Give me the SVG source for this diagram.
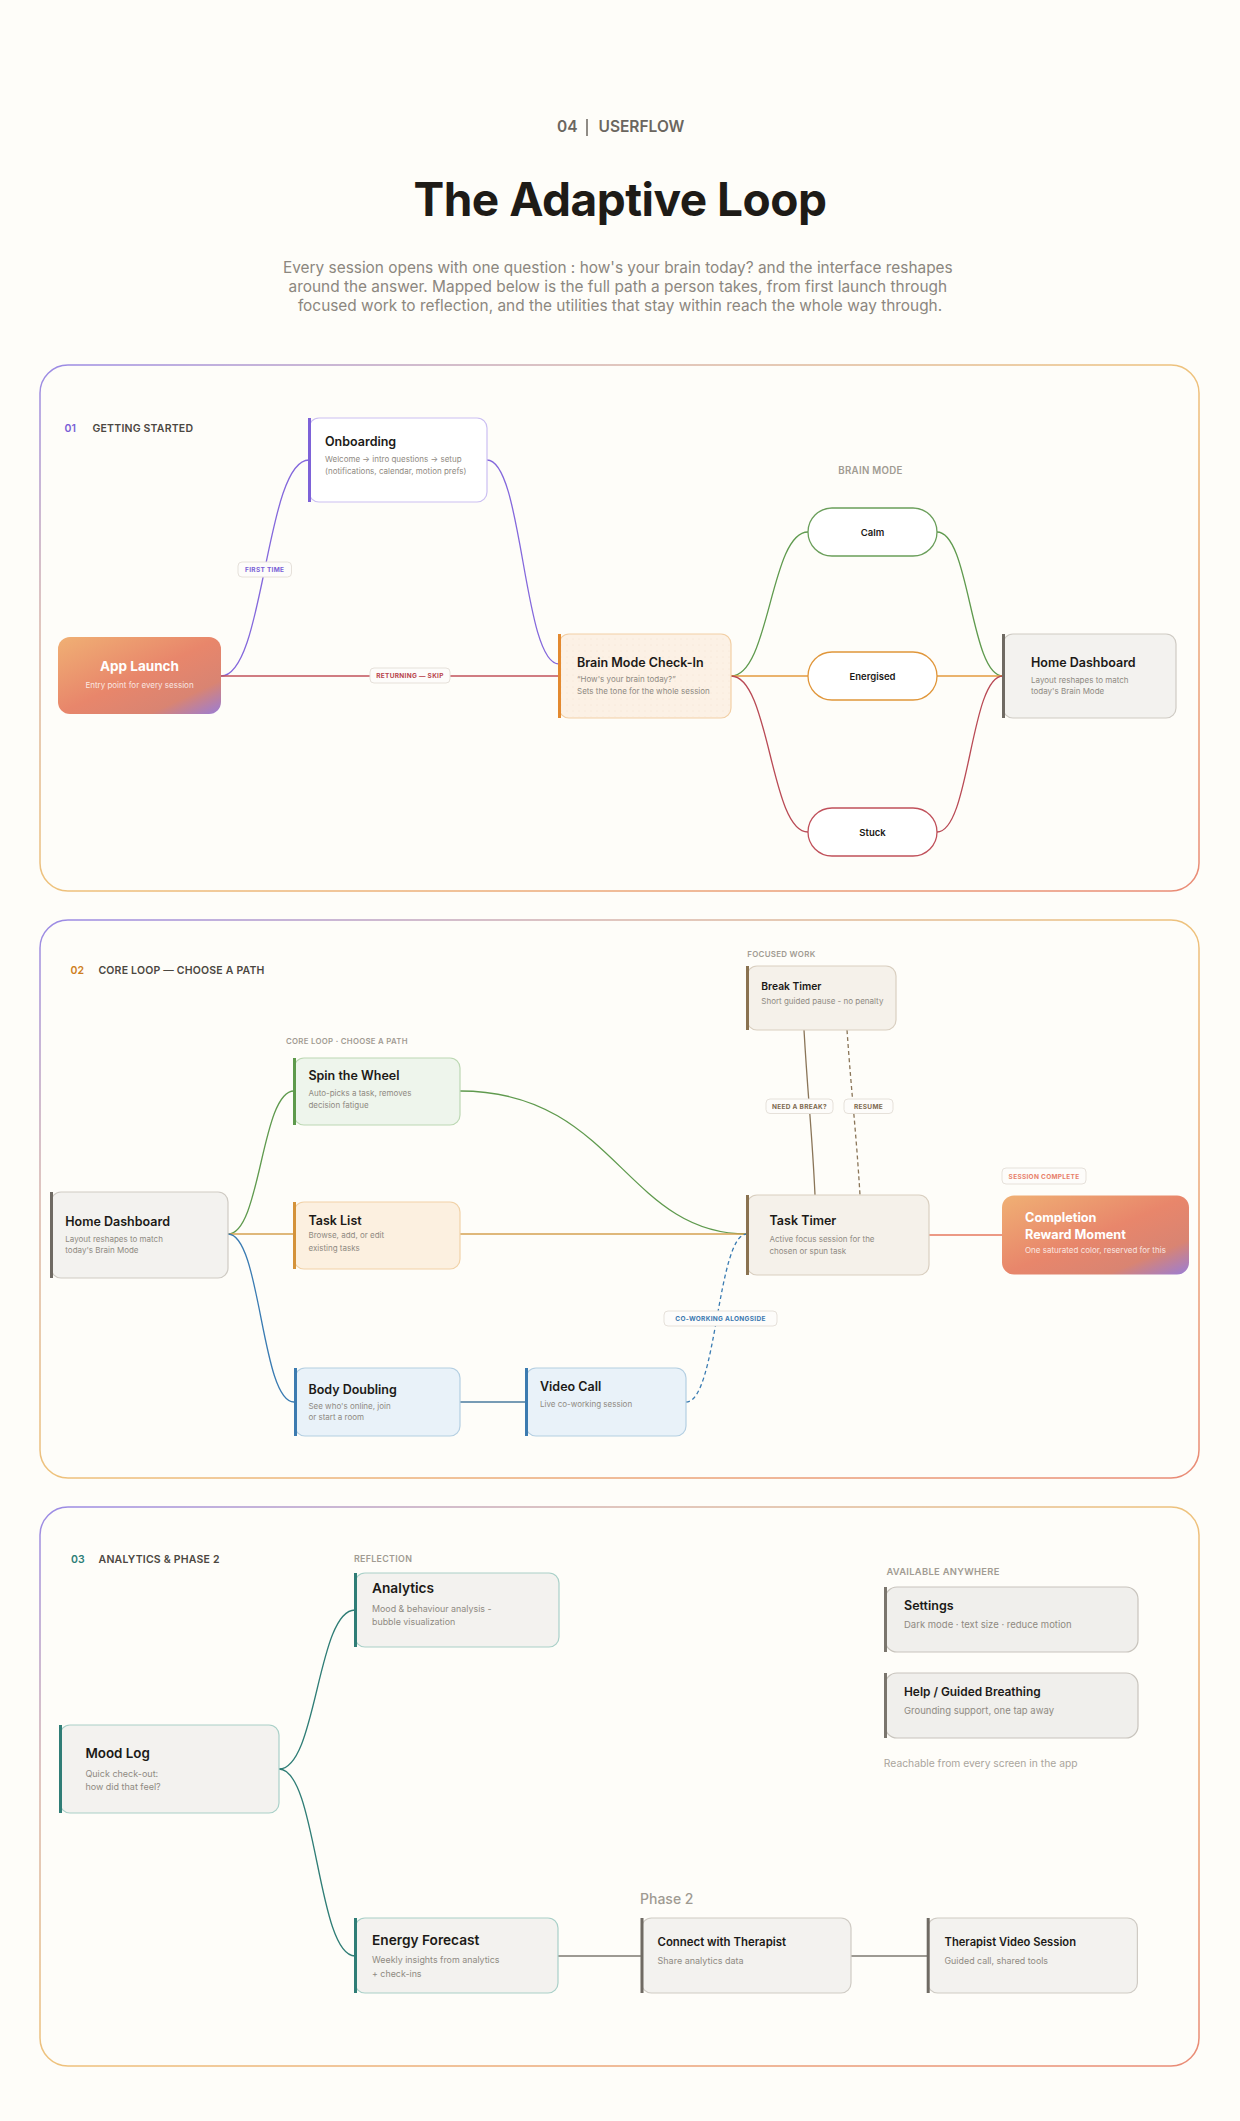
<svg xmlns="http://www.w3.org/2000/svg" width="1240" height="2121" viewBox="0 0 1240 2121">
<defs>
<linearGradient id="secBorder" x1="0" y1="0" x2="1" y2="1">
<stop offset="0" stop-color="#9a8ae6"/>
<stop offset="0.25" stop-color="#d7b4ab"/>
<stop offset="0.5" stop-color="#eec27c"/>
<stop offset="1" stop-color="#e98b76"/>
</linearGradient>
<linearGradient id="hot" x1="0" y1="0" x2="1" y2="1">
<stop offset="0" stop-color="#f0b074"/>
<stop offset="0.5" stop-color="#e8866b"/>
<stop offset="0.78" stop-color="#d98472"/>
<stop offset="1" stop-color="#9a7dd6"/>
</linearGradient>
<pattern id="dots" width="6" height="6" patternUnits="userSpaceOnUse">
<circle cx="3" cy="3" r="0.5" fill="#efdfcb"/>
</pattern>
<style>
text{font-family:Inter,'Liberation Sans',sans-serif}
.sec{fill:none;stroke:url(#secBorder);stroke-width:1.5}
.sn{font-size:10.5px;font-weight:600}
.st{font-size:10.5px;font-weight:600;fill:#4b4741;letter-spacing:.2px}
.cap{font-size:8.5px;font-weight:600;fill:#a19b92;letter-spacing:.3px}
.nt{font-size:12.5px;font-weight:600;fill:#1c1a17}
.nd{font-size:8px;fill:#8f8a82}
.wt{font-size:13.5px;font-weight:700;fill:#ffffff}
.wd{font-size:8px;fill:#ffffff;fill-opacity:.82}
.pill{font-size:9.5px;font-weight:600;fill:#1c1a17;text-anchor:middle}
.tag{fill:#fdfcfa;stroke:#e6e1da;stroke-width:1}
.tt{font-size:6.5px;font-weight:700;letter-spacing:.3px;text-anchor:middle}
.c{fill:none;stroke-width:1.3}
.neutral rect.card{fill:#f3f2ef;stroke:#cfcbc4}
.neutral .bar{fill:#6f6a63}
.card{stroke-width:1.2}
</style>
</defs>
<rect x="0" y="0" width="1240" height="2121" fill="#fefdf9"/>

<g id="header">
<text x="557" y="131.5" font-size="15.5" font-weight="600" fill="#6b665f">04</text>
<line x1="587" y1="119" x2="587" y2="136" stroke="#6b665f" stroke-width="1.5"/>
<text x="598.5" y="131.5" font-size="15.5" font-weight="600" fill="#6b665f">USERFLOW</text>
<text x="620" y="216" text-anchor="middle" font-size="46" font-weight="700" fill="#1e1b17" letter-spacing="-0.5">The Adaptive Loop</text>
<text text-anchor="middle" font-size="15.4" fill="#8c877f">
<tspan x="620" y="272.5">Every session opens with one question : how's your brain today? and the interface reshapes</tspan>
<tspan x="620" y="291.5">around the answer. Mapped below is the full path a person takes, from first launch through</tspan>
<tspan x="620" y="310.5">focused work to reflection, and the utilities that stay within reach the whole way through.</tspan>
</text>
</g>

<g id="sections">
<rect class="sec" x="40" y="365" width="1159" height="526" rx="28"/>
<rect class="sec" x="40" y="920" width="1159" height="558" rx="28"/>
<rect class="sec" x="40" y="1507" width="1159" height="559" rx="28"/>
<text class="sn" x="64.5" y="431.5" fill="#7a5fd6">01</text>
<text class="st" x="92.5" y="431.5">GETTING STARTED</text>
<text class="sn" x="70.5" y="974" fill="#cf7f22">02</text>
<text class="st" x="98.4" y="974">CORE LOOP — CHOOSE A PATH</text>
<text class="sn" x="71" y="1563.3" fill="#2d7d77">03</text>
<text class="st" x="98.6" y="1563.3">ANALYTICS &amp; PHASE 2</text>
<text class="cap" x="870.5" y="474.3" text-anchor="middle" style="font-size:9.7px">BRAIN MODE</text>
<text class="cap" x="286" y="1044.3" style="font-size:7.8px">CORE LOOP · CHOOSE A PATH</text>
<text class="cap" x="747.3" y="956.8" style="font-size:7.9px">FOCUSED WORK</text>
<text class="cap" x="354" y="1561.7" style="font-size:8.9px">REFLECTION</text>
<text class="cap" x="886.4" y="1575" style="font-size:9.4px">AVAILABLE ANYWHERE</text>
<text x="883.8" y="1767.3" font-size="10.3" fill="#aaa59d">Reachable from every screen in the app</text>
<text x="640" y="1904" font-size="14" font-weight="500" fill="#9f9a92">Phase 2</text>
</g>

<g id="connectors">
<path class="c" stroke="#8468dc" d="M221,676 C265,676 265,460 309,460"/>
<path class="c" stroke="#8468dc" d="M487,460 C523,460 523,664 559,664"/>
<path class="c" stroke="#c0505a" d="M221,676 L559,676"/>
<path class="c" stroke="#5f9a4e" d="M731,676 C770,676 770,532 808,532"/>
<path class="c" stroke="#e39a3e" d="M731,676 L808,676"/>
<path class="c" stroke="#b94a55" d="M731,676 C770,676 770,832 808,832"/>
<path class="c" stroke="#5f9a4e" d="M937,532 C970,532 970,676 1003,676"/>
<path class="c" stroke="#e39a3e" d="M937,676 L1003,676"/>
<path class="c" stroke="#b94a55" d="M937,832 C970,832 970,676 1003,676"/>

<path class="c" stroke="#5f9a4e" d="M228,1234 C261,1234 261,1091 294,1091"/>
<path class="c" stroke="#d4a050" stroke-width="1.6" d="M228,1234 L294,1234"/>
<path class="c" stroke="#3a7bb2" d="M228,1234 C261,1234 261,1402 294,1402"/>
<path class="c" stroke="#5f9a4e" d="M460,1091 C615,1091 625,1234 747,1234"/>
<path class="c" stroke="#d4a050" stroke-width="1.6" d="M460,1234 L747,1234"/>
<path class="c" stroke="#4a7a9e" stroke-width="1.5" d="M460,1402 L526,1402"/>
<path class="c" stroke="#3a7bb2" stroke-dasharray="4 3" d="M686,1402 C717,1402 717,1234 747,1234"/>
<path class="c" stroke="#8a7558" d="M804,1030 C808,1100 812,1130 815,1195"/>
<path class="c" stroke="#8a7558" stroke-dasharray="4 3" d="M847,1030 C852,1100 856,1130 860,1195"/>
<path class="c" stroke="#e6775e" stroke-width="1.6" d="M929,1235 L1002,1235"/>

<path class="c" stroke="#2f7d76" d="M279,1769 C317,1769 317,1610 355,1610"/>
<path class="c" stroke="#2f7d76" d="M279,1769 C317,1769 317,1956 355,1956"/>
<path class="c" stroke="#7d7870" stroke-width="2" d="M558,1956 L641.5,1956"/>
<path class="c" stroke="#7d7870" stroke-width="2" d="M851,1956 L927.7,1956"/>

<rect class="tag" x="238" y="562" width="53.5" height="15" rx="4"/>
<text class="tt" x="264.7" y="572" fill="#7a5fd6">FIRST TIME</text>
<rect class="tag" x="370" y="668" width="80" height="15" rx="4"/>
<text class="tt" x="410" y="678" fill="#b8444c">RETURNING — SKIP</text>
<rect class="tag" x="766" y="1099" width="67" height="14.5" rx="4"/>
<text class="tt" x="799.5" y="1108.8" fill="#7d6a50">NEED A BREAK?</text>
<rect class="tag" x="844" y="1099" width="49" height="14.5" rx="4"/>
<text class="tt" x="868.5" y="1108.8" fill="#7d6a50">RESUME</text>
<rect class="tag" x="1002" y="1168" width="84" height="16" rx="4"/>
<text class="tt" x="1044" y="1178.5" fill="#e8806a">SESSION COMPLETE</text>
<rect class="tag" x="664" y="1311" width="113" height="15" rx="4"/>
<text class="tt" x="720.5" y="1321" fill="#3a78b0">CO-WORKING ALONGSIDE</text>
</g>

<g id="app-launch">
<rect x="58" y="637" width="163" height="77" rx="12" fill="url(#hot)"/>
<text class="wt" x="139.5" y="671" text-anchor="middle">App Launch</text>
<text class="wd" x="139.5" y="688" text-anchor="middle">Entry point for every session</text>
</g>

<g id="onboarding">
<rect class="card" x="309" y="418" width="178" height="84" rx="10" fill="#ffffff" stroke="#cbbff2"/>
<rect x="308" y="418" width="3" height="84" fill="#7d62d8"/>
<text class="nt" x="325" y="446">Onboarding</text>
<text class="nd" x="325" y="462">Welcome → intro questions → setup</text>
<text class="nd" x="325" y="473.5">(notifications, calendar, motion prefs)</text>
</g>

<g id="brain-mode">
<rect class="card" x="559" y="634" width="172" height="84" rx="10" fill="#fcf1e5" stroke="#f2cfa5"/>
<rect x="560" y="635" width="170" height="82" rx="9" fill="url(#dots)"/>
<rect x="558" y="634" width="3" height="84" fill="#e3892f"/>
<text class="nt" x="577" y="667">Brain Mode Check-In</text>
<text class="nd" x="577" y="682.3">“How's your brain today?”</text>
<text class="nd" x="577" y="693.5">Sets the tone for the whole session</text>
</g>

<g id="calm">
<rect x="808" y="508" width="129" height="48" rx="24" fill="#ffffff" stroke="#6a9e5a" stroke-width="1.3"/>
<text class="pill" x="872.5" y="535.5">Calm</text>
</g>
<g id="energised">
<rect x="808" y="652" width="129" height="48" rx="24" fill="#ffffff" stroke="#e0963a" stroke-width="1.3"/>
<text class="pill" x="872.5" y="679.5">Energised</text>
</g>
<g id="stuck">
<rect x="808" y="808" width="129" height="48" rx="24" fill="#ffffff" stroke="#c0505a" stroke-width="1.3"/>
<text class="pill" x="872.5" y="835.5">Stuck</text>
</g>

<g id="home-dashboard-1" class="neutral">
<rect class="card" x="1003" y="634" width="173" height="84" rx="10"/>
<rect class="bar" x="1002" y="634" width="3" height="84"/>
<text class="nt" x="1031" y="666.5">Home Dashboard</text>
<text class="nd" x="1031" y="682.7">Layout reshapes to match</text>
<text class="nd" x="1031" y="694">today's Brain Mode</text>
</g>

<g id="home-dashboard-2" class="neutral">
<rect class="card" x="51" y="1192" width="177" height="86" rx="10"/>
<rect class="bar" x="50" y="1192" width="3" height="86"/>
<text class="nt" x="65.3" y="1225.7">Home Dashboard</text>
<text class="nd" x="65.3" y="1241.7">Layout reshapes to match</text>
<text class="nd" x="65.3" y="1253.3">today's Brain Mode</text>
</g>

<g id="spin-the-wheel">
<rect class="card" x="294" y="1058" width="166" height="67" rx="10" fill="#eef5ec" stroke="#bcd8b3"/>
<rect x="293" y="1058" width="3" height="67" fill="#5e9a4c"/>
<text class="nt" x="308.4" y="1080">Spin the Wheel</text>
<text class="nd" x="308.4" y="1095.7">Auto-picks a task, removes</text>
<text class="nd" x="308.4" y="1107.7">decision fatigue</text>
</g>

<g id="task-list">
<rect class="card" x="294" y="1202" width="166" height="67" rx="10" fill="#fcf0e0" stroke="#f1d2a8"/>
<rect x="293" y="1202" width="3" height="67" fill="#d4923a"/>
<text class="nt" x="308.4" y="1225">Task List</text>
<text class="nd" x="308.4" y="1238.3">Browse, add, or edit</text>
<text class="nd" x="308.4" y="1250.7">existing tasks</text>
</g>

<g id="body-doubling">
<rect class="card" x="295" y="1368" width="165" height="68" rx="10" fill="#e9f2f9" stroke="#b4cfe2"/>
<rect x="294" y="1368" width="3" height="68" fill="#3c7bb0"/>
<text class="nt" x="308.4" y="1394">Body Doubling</text>
<text class="nd" x="308.4" y="1409">See who's online, join</text>
<text class="nd" x="308.4" y="1420">or start a room</text>
</g>

<g id="video-call">
<rect class="card" x="526" y="1368" width="160" height="68" rx="10" fill="#e9f2f9" stroke="#b4cfe2"/>
<rect x="525" y="1368" width="3" height="68" fill="#3c7bb0"/>
<text class="nt" x="540" y="1391">Video Call</text>
<text class="nd" x="540" y="1406.5">Live co-working session</text>
</g>

<g id="break-timer">
<rect class="card" x="747" y="966" width="149" height="64" rx="10" fill="#f5f1ea" stroke="#d9cfc0"/>
<rect x="746" y="966" width="3" height="64" fill="#8a7250"/>
<text class="nt" x="761.3" y="990.2" style="font-size:10.3px">Break Timer</text>
<text class="nd" x="761.3" y="1004.3">Short guided pause - no penalty</text>
</g>

<g id="task-timer">
<rect class="card" x="747" y="1195" width="182" height="80" rx="10" fill="#f5f1ea" stroke="#d9cfc0"/>
<rect x="746" y="1195" width="3" height="80" fill="#8a7250"/>
<text class="nt" x="769.5" y="1225.4">Task Timer</text>
<text class="nd" x="769.5" y="1242">Active focus session for the</text>
<text class="nd" x="769.5" y="1254">chosen or spun task</text>
</g>

<g id="completion">
<rect x="1002" y="1195.5" width="187" height="79" rx="12" fill="url(#hot)"/>
<text class="wt" x="1025" y="1221.7" style="font-size:12.7px">Completion</text>
<text class="wt" x="1025" y="1239.3" style="font-size:12.7px">Reward Moment</text>
<text class="wd" x="1025" y="1253.3">One saturated color, reserved for this</text>
</g>

<g id="analytics">
<rect class="card" x="355" y="1573" width="204" height="74" rx="10" fill="#f3f2ef" stroke="#a9d0c8"/>
<rect x="354" y="1573" width="3" height="74" fill="#2f7d76"/>
<text class="nt" x="372" y="1593.3" style="font-size:13.7px">Analytics</text>
<text class="nd" x="372" y="1611.7" style="font-size:8.9px">Mood &amp; behaviour analysis -</text>
<text class="nd" x="372" y="1625" style="font-size:8.9px">bubble visualization</text>
</g>

<g id="mood-log">
<rect class="card" x="60" y="1725" width="219" height="88" rx="10" fill="#f3f2ef" stroke="#a9d0c8"/>
<rect x="59" y="1725" width="3" height="88" fill="#2f7d76"/>
<text class="nt" x="85.4" y="1758.3" style="font-size:13.4px">Mood Log</text>
<text class="nd" x="85.4" y="1776.7" style="font-size:9px">Quick check-out:</text>
<text class="nd" x="85.4" y="1790" style="font-size:9px">how did that feel?</text>
</g>

<g id="energy-forecast">
<rect class="card" x="355" y="1918" width="203" height="75" rx="10" fill="#f3f2ef" stroke="#a9d0c8"/>
<rect x="354" y="1918" width="3" height="75" fill="#2f7d76"/>
<text class="nt" x="372" y="1945" style="font-size:13.7px">Energy Forecast</text>
<text class="nd" x="372" y="1963.3" style="font-size:8.9px">Weekly insights from analytics</text>
<text class="nd" x="372" y="1976.7" style="font-size:8.9px">+ check-ins</text>
</g>

<g id="connect-therapist" class="neutral">
<rect class="card" x="641.5" y="1918" width="209.5" height="75" rx="10"/>
<rect class="bar" x="640.5" y="1918" width="3" height="75"/>
<text class="nt" x="657.5" y="1946" style="font-size:11.4px">Connect with Therapist</text>
<text class="nd" x="657.5" y="1964.3" style="font-size:9px">Share analytics data</text>
</g>

<g id="therapist-video" class="neutral">
<rect class="card" x="927.7" y="1918" width="209.7" height="75" rx="10"/>
<rect class="bar" x="926.7" y="1918" width="3" height="75"/>
<text class="nt" x="944.5" y="1946" style="font-size:11.2px">Therapist Video Session</text>
<text class="nd" x="944.5" y="1964.3" style="font-size:8.9px">Guided call, shared tools</text>
</g>

<g id="settings">
<rect class="card" x="885" y="1587" width="253" height="65" rx="12" fill="#f0efec" stroke="#c8c4bd"/>
<rect x="884" y="1587" width="3" height="65" fill="#7a756d"/>
<text class="nt" x="904" y="1610">Settings</text>
<text class="nd" x="904" y="1628.3" style="font-size:9.5px">Dark mode · text size · reduce motion</text>
</g>

<g id="help-breathing">
<rect class="card" x="885" y="1673" width="253" height="65" rx="12" fill="#f0efec" stroke="#c8c4bd"/>
<rect x="884" y="1673" width="3" height="65" fill="#7a756d"/>
<text class="nt" x="904" y="1696" style="font-size:11.9px">Help / Guided Breathing</text>
<text class="nd" x="904" y="1714.3" style="font-size:9.5px">Grounding support, one tap away</text>
</g>
</svg>
